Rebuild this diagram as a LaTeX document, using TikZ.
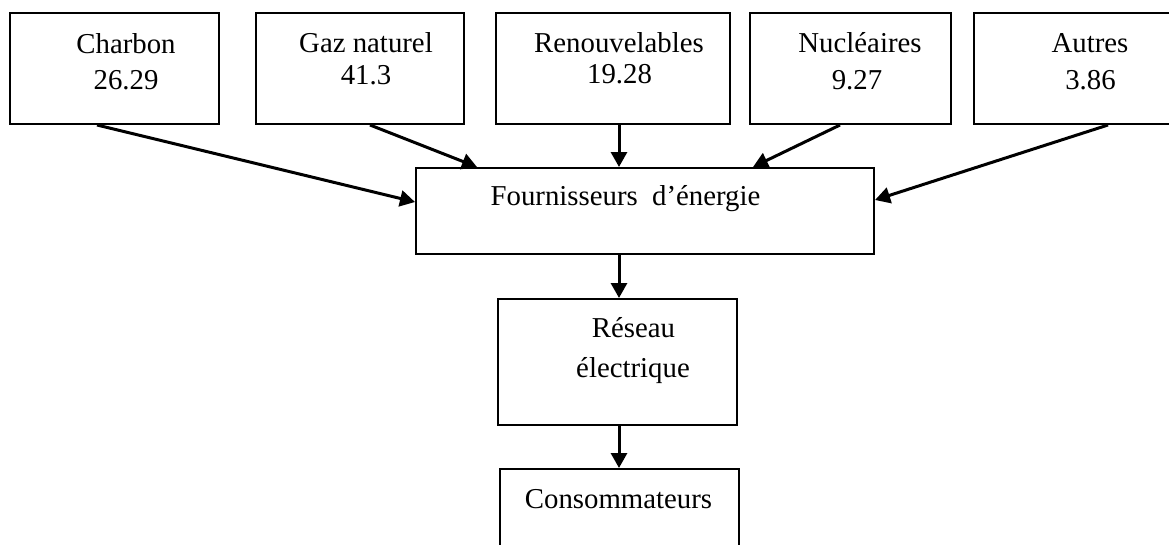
\documentclass[tikz,border=0pt]{standalone}
\usepackage{fontspec}
\setmainfont{Liberation Serif}
\usetikzlibrary{arrows.meta}
\begin{document}
\begin{tikzpicture}[x=1pt,y=-1pt,
  box/.style={draw,line width=2pt,rectangle,inner sep=0pt,anchor=center},
  lbl/.style={inner sep=0pt,anchor=base,font=\fontsize{28.8}{34}\selectfont},
  arr/.style={line width=3pt,-{Triangle[length=15pt,width=16pt]}}]
\clip (0,0) rectangle (1169,544);
\fill[white] (0,0) rectangle (1169,544);

% sources
\node[box,minimum width=209pt,minimum height=111pt] (charbon) at (114.5,68.5) {};
\node[box,minimum width=208pt,minimum height=111pt] (gaz) at (360,68.5) {};
\node[box,minimum width=234pt,minimum height=111pt] (renouv) at (613,68.5) {};
\node[box,minimum width=201pt,minimum height=111pt] (nucl) at (850.5,68.5) {};
\node[box,minimum width=198pt,minimum height=111pt] (autres) at (1073,68.5) {};

% chain
\node[box,minimum width=458pt,minimum height=86pt] (fourn) at (645,211) {};
\node[box,minimum width=239pt,minimum height=126pt] (reseau) at (617.5,362) {};
\node[box,minimum width=239pt,minimum height=111pt] (conso) at (619.5,524.5) {};

% labels
\node[lbl] (charbonA) at (126,53) {Charbon};
\node[lbl] (charbonB) at (126,89) {26.29};
\node[lbl] (gazA) at (366,52) {Gaz naturel};
\node[lbl] (gazB) at (366,84) {41.3};
\node[lbl] (renouvA) at (619,52) {Renouvelables};
\node[lbl] (renouvB) at (619.5,83) {19.28};
\node[lbl] (nuclA) at (860,52) {Nucléaires};
\node[lbl] (nuclB) at (857,89) {9.27};
\node[lbl] (autresA) at (1090,52) {Autres};
\node[lbl] (autresB) at (1090.5,89) {3.86};
\node[lbl] (fournA) at (625.5,205.5) {Fournisseurs\ \ d’énergie};
\node[lbl] (reseauA) at (633.5,337) {Réseau};
\node[lbl] (reseauB) at (633,377) {électrique};
\node[lbl] (consoA) at (618.5,508) {Consommateurs};

% flows
\draw[arr] ([xshift=-17.5pt]charbon.south) -- ([yshift=9pt]fourn.west);
\draw[arr] ([xshift=10pt]gaz.south) -- ([xshift=-168pt]fourn.north);
\draw[arr] ([xshift=6pt]renouv.south) -- ([xshift=-26pt]fourn.north);
\draw[arr] ([xshift=-10.5pt]nucl.south) -- ([xshift=108pt]fourn.north);
\draw[arr] ([xshift=35pt]autres.south) -- ([yshift=11pt]fourn.east);
\draw[arr] ([xshift=-26pt]fourn.south) -- ([xshift=1.5pt]reseau.north);
\draw[arr] ([xshift=1.5pt]reseau.south) -- ([xshift=-0.5pt]conso.north);
\end{tikzpicture}
\end{document}
